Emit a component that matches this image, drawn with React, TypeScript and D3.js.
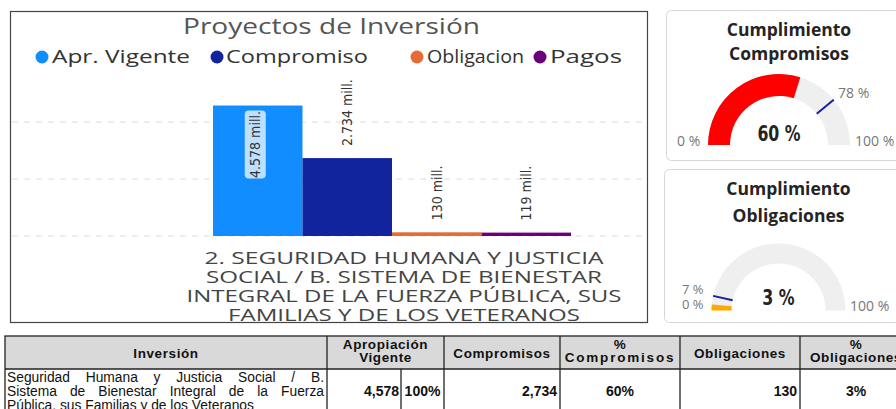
import React, { useLayoutEffect, useRef } from "react";
import * as d3 from "d3";

// ---------- data ----------
const chartTitle = "Proyectos de Inversión";
const seriesNames = ["Apr. Vigente", "Compromiso", "Obligacion", "Pagos"];
const seriesValues = [4578, 2734, 130, 119];
const seriesColors = ["#118DFF", "#12239E", "#E66C37", "#6B007B"];
const categoryLines = [
  "2. SEGURIDAD HUMANA Y JUSTICIA",
  "SOCIAL / B. SISTEMA DE BIENESTAR",
  "INTEGRAL DE LA FUERZA PÚBLICA, SUS",
  "FAMILIAS Y DE LOS VETERANOS",
];
const gridTicks = [0, 2000, 4000];

const gaugeTitles = [
  ["Cumplimiento", "Compromisos"],
  ["Cumplimiento", "Obligaciones"],
];
const gaugeTargets = [0.78, 0.07];
const gaugeColors = ["#FF0000", "#FDAB00"];

const tableHeaders = [
  ["Inversión"],
  ["Apropiación", "Vigente"],
  ["Compromisos"],
  ["%", "Compromisos"],
  ["Obligaciones"],
  ["%", "Obligaciones"],
];
const rowTextLines = [
  "Seguridad Humana y Justicia Social / B.",
  "Sistema de Bienestar Integral de la Fuerza",
  "Pública, sus Familias y de los Veteranos",
];
const apropiacion = seriesValues[0];
const compromisos = seriesValues[1];
const obligaciones = seriesValues[2];

// ---------- layout (positions / widths of stretched texts) ----------
const legendLayout = [
  { cx: 42, tx: 52, w: 138 },
  { cx: 217, tx: 226, w: 142 },
  { cx: 417, tx: 427, w: 97 },
  { cx: 540, tx: 550, w: 72 },
];
const categoryWidths = [399, 396, 435, 352];

// ---------- helpers ----------
const fmtMill = (v: number) => d3.format(",")(v).replace(/,/g, ".") + " mill.";
const fmtTable = d3.format(",");
const pctC = compromisos / apropiacion;
const pctO = obligaciones / apropiacion;
const fmtPct = (p: number) => Math.round(p * 100) + "%";

const SANS = "'Open Sans', 'Noto Sans', sans-serif";
const NARROW = "'Liberation Sans Narrow', 'DejaVu Sans Condensed', 'Roboto', sans-serif";
const ARIAL = "'Liberation Sans', Arial, sans-serif";

function Justified({ x, y, width, text, justify, ...rest }: any) {
  const ref = useRef<SVGTextElement>(null);
  useLayoutEffect(() => {
    const el = ref.current;
    if (!el || !justify) return;
    el.setAttribute("word-spacing", "0");
    const w = el.getComputedTextLength();
    const spaces = (text.match(/ /g) || []).length;
    if (spaces > 0) el.setAttribute("word-spacing", String((width - w) / spaces));
  }, [text, width, justify]);
  return (
    <text ref={ref} x={x} y={y} {...rest}>
      {text}
    </text>
  );
}

function Gauge({ cx, cy, rOuter, rInner, value, target, color, title, titleY, valueY, labels }: any) {
  const arc = d3.arc<any>().innerRadius(rInner).outerRadius(rOuter);
  const angle = d3.scaleLinear().domain([0, 1]).range([-Math.PI / 2, Math.PI / 2]);
  const bg = arc({ startAngle: angle(0), endAngle: angle(1) }) as string;
  const fg = arc({ startAngle: angle(0), endAngle: angle(value) }) as string;
  const a = angle(target);
  const p = (r: number) => [cx + r * Math.sin(a), cy - r * Math.cos(a)];
  const [x1, y1] = p(rInner);
  const [x2, y2] = p(rOuter);
  const valueText = Math.round(value * 100) + " %";
  return (
    <g>
      {title.map((t: string, i: number) => (
        <text key={i} x={cx + 10} y={titleY[i]} textAnchor="middle" fontFamily={SANS} fontWeight={700} fontSize={17.5} fill="#252423">
          {t}
        </text>
      ))}
      <path d={bg} transform={`translate(${cx},${cy})`} fill="#EFEFEF" />
      <path d={fg} transform={`translate(${cx},${cy})`} fill={color} />
      <line x1={x1} y1={y1} x2={x2} y2={y2} stroke="#12239E" strokeWidth={2} />
      <text
        x={cx}
        y={valueY}
        textAnchor="middle"
        fontFamily={NARROW}
        fontWeight={700}
        fontSize={22}
        fill="#252423"
        textLength={valueText.length * 10.8}
        lengthAdjust="spacingAndGlyphs"
      >
        {valueText}
      </text>
      {labels.map((l: any, i: number) => (
        <text key={i} x={l.x} y={l.y} fontFamily={SANS} fontSize={l.s || 14} fill="#777">
          {l.t}
        </text>
      ))}
    </g>
  );
}

export default function App() {
  const baseY = 236;
  const y = d3.scaleLinear().domain([0, 5000]).range([baseY, baseY - 142.5]);
  const x = d3.scaleBand<string>().domain(seriesNames).range([213, 571]).padding(0);

  const colX = [5, 327, 401, 444, 560, 680, 800, 912];
  const headerCenters = [
    (colX[0] + colX[1]) / 2,
    (colX[1] + colX[3]) / 2,
    (colX[3] + colX[4]) / 2,
    (colX[4] + colX[5]) / 2,
    (colX[5] + colX[6]) / 2,
    (colX[6] + colX[7]) / 2,
  ];
  const tTop = 336,
    tMid = 369,
    tBot = 424;

  return (
    <svg width={896} height={409} style={{ position: "absolute", left: 0, top: 0, background: "#fff" }}>
      <rect x={0} y={0} width={896} height={409} fill="#fff" />
      {/* left panel */}
      <rect x={10.5} y={11.5} width={637} height={311} fill="#fff" stroke="#444" strokeWidth={1.2} />
      <text x={331.5} y={34} textAnchor="middle" fontFamily={SANS} fontSize={21} fill="#555" textLength={297} lengthAdjust="spacingAndGlyphs">
        {chartTitle}
      </text>
      {seriesNames.map((s, i) => (
        <g key={s}>
          <circle cx={legendLayout[i].cx} cy={57} r={6.5} fill={seriesColors[i]} />
          <text
            x={legendLayout[i].tx}
            y={63}
            fontFamily={SANS}
            fontSize={18}
            fill="#333"
            textLength={legendLayout[i].w}
            lengthAdjust="spacingAndGlyphs"
          >
            {s}
          </text>
        </g>
      ))}
      {gridTicks.map((t) => (
        <line key={t} x1={12} x2={646} y1={y(t)} y2={y(t)} stroke="#DDD" strokeDasharray="6,6" strokeWidth={1} />
      ))}
      {seriesNames.map((s, i) => {
        const h = Math.max(baseY - y(seriesValues[i]), 2.5);
        return <rect key={s} x={x(s)} y={baseY - h} width={x.bandwidth()} height={h} fill={seriesColors[i]} />;
      })}
      {seriesNames.map((s, i) => {
        const cx = (x(s) as number) + x.bandwidth() / 2;
        const top = y(seriesValues[i]);
        const label = fmtMill(seriesValues[i]);
        if (i === 0) {
          const mid = top + 39;
          return (
            <g key={s}>
              <rect x={cx - 13} y={top + 5} width={21} height={68} rx={4} fill="#BEE0FF" />
              <text transform={`translate(${cx + 2.5},${mid}) rotate(-90)`} textAnchor="middle" fontFamily={NARROW} fontSize={14} fill="#333">
                {label}
              </text>
            </g>
          );
        }
        return (
          <text key={s} transform={`translate(${cx + 5},${Math.min(top, baseY - 3) - 12}) rotate(-90)`} textAnchor="start" fontFamily={NARROW} fontSize={14} fill="#333">
            {label}
          </text>
        );
      })}
      {categoryLines.map((l, i) => (
        <text
          key={i}
          x={404}
          y={264 + i * 18.9}
          textAnchor="middle"
          fontFamily={SANS}
          fontSize={16.2}
          fill="#444"
          textLength={categoryWidths[i]}
          lengthAdjust="spacingAndGlyphs"
        >
          {l}
        </text>
      ))}

      {/* right panels */}
      <rect x={666.5} y={10.5} width={240} height={150} rx={5} fill="#fff" stroke="#D6D6D6" />
      <rect x={664.5} y={169.5} width={240} height={153} rx={5} fill="#fff" stroke="#D6D6D6" />
      <Gauge
        cx={779}
        cy={145}
        rOuter={71}
        rInner={49}
        value={pctC}
        target={gaugeTargets[0]}
        color={gaugeColors[0]}
        title={gaugeTitles[0]}
        titleY={[36, 60]}
        valueY={141}
        labels={[
          { t: "0 %", x: 677, y: 146 },
          { t: "100 %", x: 855, y: 146 },
          { t: Math.round(gaugeTargets[0] * 100) + " %", x: 838, y: 98 },
        ]}
      />
      <Gauge
        cx={778.5}
        cy={310.5}
        rOuter={67}
        rInner={47}
        value={pctO}
        target={gaugeTargets[1]}
        color={gaugeColors[1]}
        title={gaugeTitles[1]}
        titleY={[195, 222]}
        valueY={305}
        labels={[
          { t: Math.round(gaugeTargets[1] * 100) + " %", x: 682, y: 294, s: 13 },
          { t: "0 %", x: 682, y: 309, s: 13 },
          { t: "100 %", x: 850, y: 311 },
        ]}
      />

      {/* table */}
      <rect x={colX[0]} y={tTop} width={colX[7] - colX[0]} height={tMid - tTop} fill="#D9D9D9" />
      <rect x={colX[0]} y={tTop} width={colX[7] - colX[0]} height={tBot - tTop} fill="none" stroke="#222" strokeWidth={1.3} />
      <line x1={colX[0]} x2={colX[7]} y1={tMid} y2={tMid} stroke="#222" strokeWidth={1.3} />
      {colX.slice(1, 7).map((cx, i) => (
        <line key={i} x1={cx} x2={cx} y1={cx === colX[2] ? tMid : tTop} y2={tBot} stroke="#222" strokeWidth={1.3} />
      ))}
      {tableHeaders.map((h, i) =>
        h.map((t, j) => (
          <text
            key={i + "-" + j}
            x={headerCenters[i]}
            y={h.length === 1 ? 357.5 : 349 + j * 13}
            textAnchor="middle"
            fontFamily={ARIAL}
            fontWeight={700}
            fontSize={13.5}
            letterSpacing={i === 3 && j === 1 ? 1.8 : 0.6}
            fill="#111"
          >
            {t}
          </text>
        ))
      )}
      {rowTextLines.map((l, i) => (
        <Justified key={i} x={7} y={382 + i * 14} width={317} text={l} justify={i < rowTextLines.length - 1} fontFamily={ARIAL} fontSize={13.8} fill="#111" />
      ))}
      <g fontFamily={ARIAL} fontWeight={700} fontSize={14} fill="#111">
        <text x={colX[2] - 2} y={396} textAnchor="end">{fmtTable(apropiacion)}</text>
        <text x={(colX[2] + colX[3]) / 2} y={396} textAnchor="middle">100%</text>
        <text x={colX[4] - 3} y={396} textAnchor="end">{fmtTable(compromisos)}</text>
        <text x={headerCenters[3]} y={396} textAnchor="middle">{fmtPct(pctC)}</text>
        <text x={colX[6] - 3} y={396} textAnchor="end">{fmtTable(obligaciones)}</text>
        <text x={headerCenters[5]} y={396} textAnchor="middle">{fmtPct(pctO)}</text>
      </g>
    </svg>
  );
}
